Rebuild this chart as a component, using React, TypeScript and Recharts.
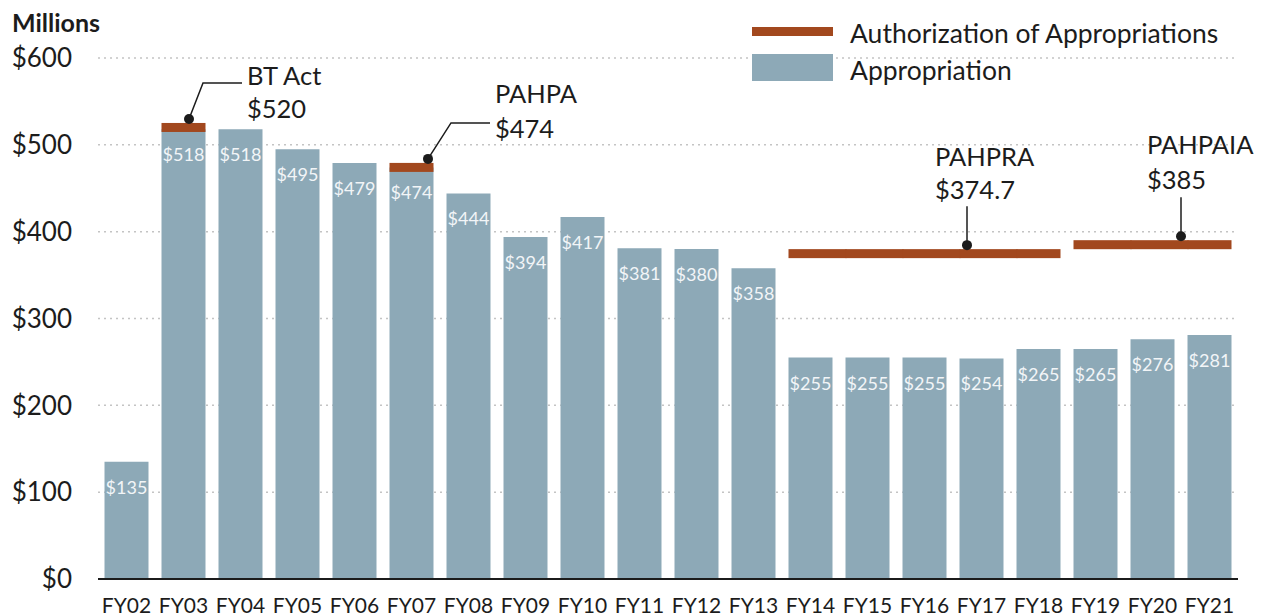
import {
  Bar,
  BarChart,
  CartesianGrid,
  LabelList,
  ReferenceDot,
  XAxis,
  YAxis,
} from "recharts";

const years = [
  "FY02", "FY03", "FY04", "FY05", "FY06", "FY07", "FY08", "FY09", "FY10", "FY11",
  "FY12", "FY13", "FY14", "FY15", "FY16", "FY17", "FY18", "FY19", "FY20", "FY21",
];
const appropriation = [
  135, 518, 518, 495, 479, 474, 444, 394, 417, 381,
  380, 358, 255, 255, 255, 254, 265, 265, 276, 281,
];
const authorization = [
  null, 520, null, null, null, 474, null, null, null, null,
  null, null, 374.7, 374.7, 374.7, 374.7, 374.7, 385, 385, 385,
];
const authLaw = [
  null, "BT Act", null, null, null, "PAHPA", null, null, null, null,
  null, null, "PAHPRA", "PAHPRA", "PAHPRA", "PAHPRA", "PAHPRA", "PAHPAIA", "PAHPAIA", "PAHPAIA",
];
const yTicks = [0, 100, 200, 300, 400, 500, 600];

const annotations = [
  { law: "BT Act", year: "FY03", value: 520, amount: "$520" },
  { law: "PAHPA", year: "FY07", value: 474, amount: "$474" },
  { law: "PAHPRA", year: "FY16", value: 374.7, amount: "$374.7" },
  { law: "PAHPAIA", year: "FY20", value: 385, amount: "$385" },
];

const data = years.map((year, i) => ({
  year,
  appropriation: appropriation[i],
  auth: authorization[i],
  law: authLaw[i],
}));

const WIDTH = 1263;
const HEIGHT = 616;
const MARGIN = { top: 58, right: 25, left: 0, bottom: 0 };
const Y_WIDTH = 98;
const BAND = (WIDTH - MARGIN.left - MARGIN.right - Y_WIDTH) / years.length;

const FONT = "Lato, 'Open Sans', sans-serif";
const TEXT = "#1c1c1c";
const BLUE = "#8DA9B7";
const RUST = "#A2481E";

// leader line layout for each annotation, relative to band centre
const annotationStyle: Record<string, { dx: number; kind: "elbow" | "vertical"; tx: number; t1: number; t2: number }> = {
  "BT Act": { dx: 5.5, kind: "elbow", tx: 58, t1: -44, t2: -11 },
  PAHPA: { dx: 16.5, kind: "elbow", tx: 67, t1: -66, t2: -31 },
  PAHPRA: { dx: 42.5, kind: "vertical", tx: -32, t1: -89, t2: -56 },
  PAHPAIA: { dx: 28.5, kind: "vertical", tx: -34, t1: -92, t2: -57 },
};

function AuthShape(props: any) {
  const { x, y, width, payload } = props;
  if (payload?.auth == null) return null;
  const i = years.indexOf(payload.year);
  const nextSame = i >= 0 && i + 1 < authLaw.length && authLaw[i + 1] === payload.law;
  const gap = BAND - width;
  // overlap a pixel into the next segment so no seam shows
  const w = width + (nextSame ? gap + 1 : 0);
  return <rect x={x} y={y - 4.5} width={w} height={9} fill={RUST} />;
}

function makeAnnotation(a: (typeof annotations)[number]) {
  const s = annotationStyle[a.law];
  return (props: any) => {
    const cx = props.cx + s.dx;
    const cy = props.cy - 8.5;
    const path =
      s.kind === "elbow"
        ? `M${cx},${cy} L${cx + s.tx - 44},${cy - 36} L${cx + s.tx - 5},${cy - 36}`
        : `M${cx},${cy} L${cx},${cy - 39}`;
    return (
      <g>
        <path d={path} stroke={TEXT} strokeWidth={1.5} fill="none" />
        <circle cx={cx} cy={cy} r={5} fill={TEXT} />
        <text x={cx + s.tx} y={cy + s.t1} fontSize={25.5} fill={TEXT} fontFamily={FONT} dominantBaseline="central">
          {a.law}
        </text>
        <text x={cx + s.tx} y={cy + s.t2} fontSize={25.5} fill={TEXT} fontFamily={FONT} dominantBaseline="central">
          {a.amount}
        </text>
      </g>
    );
  };
}

function XTick(props: any) {
  const { x, y, payload } = props;
  return (
    <text x={x} y={y + 25} textAnchor="middle" dominantBaseline="central" fontSize={21} fill={TEXT} fontFamily={FONT}>
      {payload.value}
    </text>
  );
}

function BarValue(props: any) {
  const { x, y, width, value } = props;
  return (
    <text x={x + width / 2} y={y + 25} textAnchor="middle" dominantBaseline="central" fontSize={18} fill="#F2F5F7" fontFamily={FONT}>
      ${value}
    </text>
  );
}

function LegendBox() {
  return (
    <svg width={490} height={70} style={{ position: "absolute", left: 752, top: 20, overflow: "visible" }}>
      <rect x={0} y={7} width={81} height={9} fill={RUST} />
      <text x={98} y={13} fontSize={26.5} fill={TEXT} fontFamily={FONT} dominantBaseline="central">
        Authorization of Appropriations
      </text>
      <rect x={0} y={34} width={81} height={27} fill={BLUE} />
      <text x={98} y={50} fontSize={26.5} fill={TEXT} fontFamily={FONT} dominantBaseline="central">
        Appropriation
      </text>
    </svg>
  );
}

export default function App() {
  return (
    <div style={{ position: "absolute", left: 0, top: 0, width: WIDTH, height: HEIGHT, background: "#fff", fontFamily: FONT }}>
      <BarChart width={WIDTH} height={HEIGHT} data={data} margin={MARGIN} barCategoryGap="11.4%">
        <CartesianGrid vertical={false} stroke="#c4c4c4" strokeDasharray="2 4" strokeWidth={1.5} />
        <XAxis
          dataKey="year"
          height={37}
          tickLine={false}
          tickSize={0}
          tickMargin={0}
          axisLine={{ stroke: TEXT, strokeWidth: 2 }}
          tick={<XTick />}
          interval={0}
        />
        <XAxis xAxisId="auth" dataKey="year" hide />
        <YAxis
          width={Y_WIDTH}
          domain={[0, 600]}
          ticks={yTicks}
          tickFormatter={(v: number) => `$${v}`}
          axisLine={false}
          tickLine={false}
          tickSize={0}
          tickMargin={26}
          tick={{ fontSize: 26, fill: TEXT, fontFamily: FONT }}
        />
        <Bar dataKey="appropriation" name="Appropriation" fill={BLUE} isAnimationActive={false}>
          <LabelList dataKey="appropriation" content={<BarValue />} />
        </Bar>
        <Bar
          xAxisId="auth"
          dataKey="auth"
          name="Authorization of Appropriations"
          fill={RUST}
          shape={<AuthShape />}
          isAnimationActive={false}
        />
        {annotations.map((a) => (
          <ReferenceDot
            key={a.law}
            xAxisId="auth"
            x={a.year}
            y={a.value}
            r={0}
            shape={makeAnnotation(a)}
            ifOverflow="visible"
          />
        ))}
      </BarChart>
      <div style={{ position: "absolute", left: 12, top: 7, fontSize: 25, fontWeight: 700, color: TEXT }}>Millions</div>
      <LegendBox />
    </div>
  );
}
